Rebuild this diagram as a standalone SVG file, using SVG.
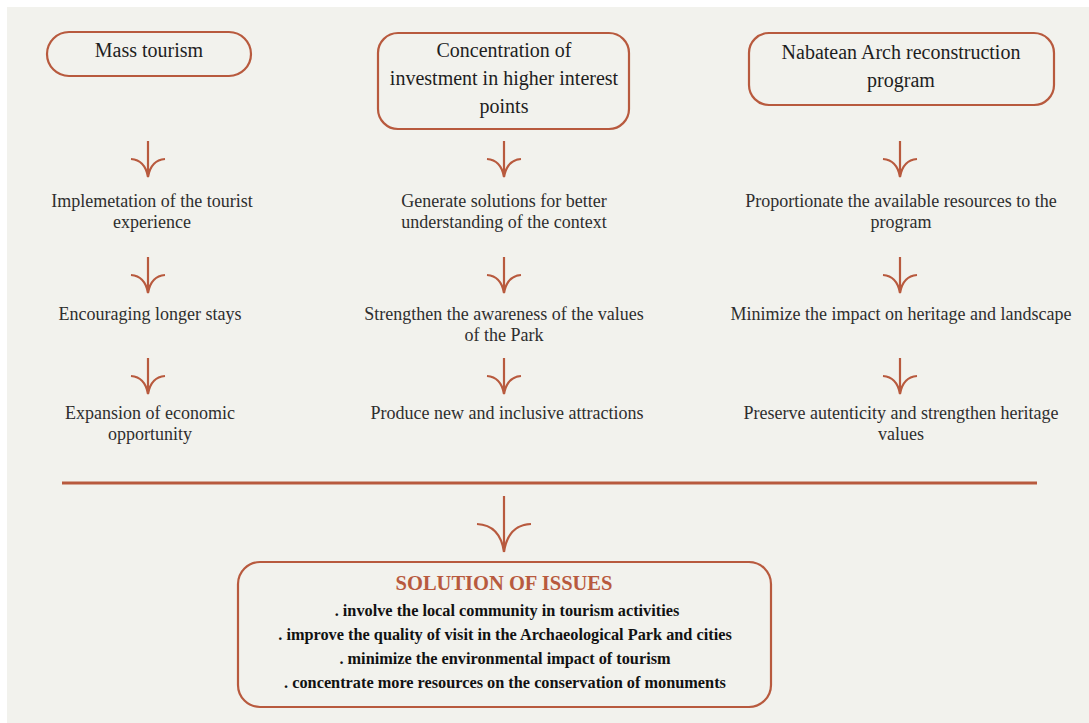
<svg xmlns="http://www.w3.org/2000/svg" width="1089" height="723" viewBox="0 0 1089 723">
  <style>
    .box { fill: none; stroke: #b85a3e; stroke-width: 2.2; }
    .arrow { fill: none; stroke: #b85a3e; stroke-width: 2.2; stroke-linecap: butt; }
    .rule { stroke: #b85a3e; stroke-width: 3; }
    .head { font-family: "Liberation Serif", "Times New Roman", serif; font-size: 20px; fill: #1e1e1e; text-anchor: middle; }
    .body { font-family: "Liberation Serif", "Times New Roman", serif; font-size: 18px; fill: #2e2e2e; text-anchor: middle; }
    .sol-title { font-family: "Liberation Serif", "Times New Roman", serif; font-size: 20.5px; font-weight: bold; fill: #b85a3e; text-anchor: middle; }
    .sol { font-family: "Liberation Serif", "Times New Roman", serif; font-size: 16.3px; font-weight: bold; fill: #111; text-anchor: middle; }
  </style>
  <defs>
    <!-- down arrow with curved wings, tip at origin -->
    <path id="dn" d="M0,-36 V0 M-17,-18 Q-3,-17 0,0 M17,-18 Q3,-17 0,0"/>
    <path id="dnBig" d="M0,-56 V0 M-27,-28 Q-4,-27 0,0 M27,-28 Q4,-27 0,0"/>
  </defs>

  <rect x="0" y="0" width="1089" height="723" fill="#ffffff"/>
  <rect x="7" y="7" width="1082" height="716" fill="#f2f2ed"/>

  <!-- column heads -->
  <g id="mass-tourism">
    <rect class="box" x="47" y="32" width="204" height="44" rx="22"/>
    <text class="head" x="149" y="57">Mass tourism</text>
  </g>
  <g id="concentration">
    <rect class="box" x="378" y="33" width="251" height="96" rx="20"/>
    <text class="head" x="504" y="57">Concentration of</text>
    <text class="head" x="504" y="85">investment in higher interest</text>
    <text class="head" x="504" y="113">points</text>
  </g>
  <g id="nabatean-arch">
    <rect class="box" x="749" y="33" width="305" height="72" rx="20"/>
    <text class="head" x="901" y="59">Nabatean Arch reconstruction</text>
    <text class="head" x="901" y="87">program</text>
  </g>

  <!-- column 1 steps -->
  <g id="c1-experience">
    <text class="body" x="152" y="207">Implemetation of the tourist</text>
    <text class="body" x="152" y="228">experience</text>
  </g>
  <g id="c1-stays">
    <text class="body" x="150" y="320">Encouraging longer stays</text>
  </g>
  <g id="c1-economic">
    <text class="body" x="150" y="419">Expansion of economic</text>
    <text class="body" x="150" y="440">opportunity</text>
  </g>

  <!-- column 2 steps -->
  <g id="c2-context">
    <text class="body" x="504" y="207">Generate solutions for better</text>
    <text class="body" x="504" y="228">understanding of the context</text>
  </g>
  <g id="c2-awareness">
    <text class="body" x="504" y="320">Strengthen the awareness of the values</text>
    <text class="body" x="504" y="341">of the Park</text>
  </g>
  <g id="c2-attractions">
    <text class="body" x="507" y="419">Produce new and inclusive attractions</text>
  </g>

  <!-- column 3 steps -->
  <g id="c3-resources">
    <text class="body" x="901" y="207">Proportionate the available resources to the</text>
    <text class="body" x="901" y="228">program</text>
  </g>
  <g id="c3-impact">
    <text class="body" x="901" y="320">Minimize the impact on heritage and landscape</text>
  </g>
  <g id="c3-authenticity">
    <text class="body" x="901" y="419">Preserve autenticity and strengthen heritage</text>
    <text class="body" x="901" y="440">values</text>
  </g>

  <!-- summary -->
  <g id="solution">
    <rect class="box" x="238" y="562" width="533" height="145" rx="22"/>
    <text class="sol-title" x="504" y="590">SOLUTION OF ISSUES</text>
    <text class="sol" x="507" y="616">. involve the local community in tourism activities</text>
    <text class="sol" x="505" y="640">. improve the quality of visit in the Archaeological Park and cities</text>
    <text class="sol" x="505" y="664">. minimize the environmental impact of tourism</text>
    <text class="sol" x="505" y="688">. concentrate more resources on the conservation of monuments</text>
  </g>

  <!-- connectors -->
  <g id="connectors" class="arrow">
    <use href="#dn" x="148" y="177"/>
    <use href="#dn" x="148" y="293"/>
    <use href="#dn" x="148" y="394"/>
    <use href="#dn" x="504" y="177"/>
    <use href="#dn" x="504" y="293"/>
    <use href="#dn" x="504" y="394"/>
    <use href="#dn" x="900" y="177"/>
    <use href="#dn" x="900" y="293"/>
    <use href="#dn" x="900" y="394"/>
    <line class="rule" x1="62" y1="483" x2="1037" y2="483"/>
    <use href="#dnBig" x="504" y="552"/>
  </g>
</svg>
